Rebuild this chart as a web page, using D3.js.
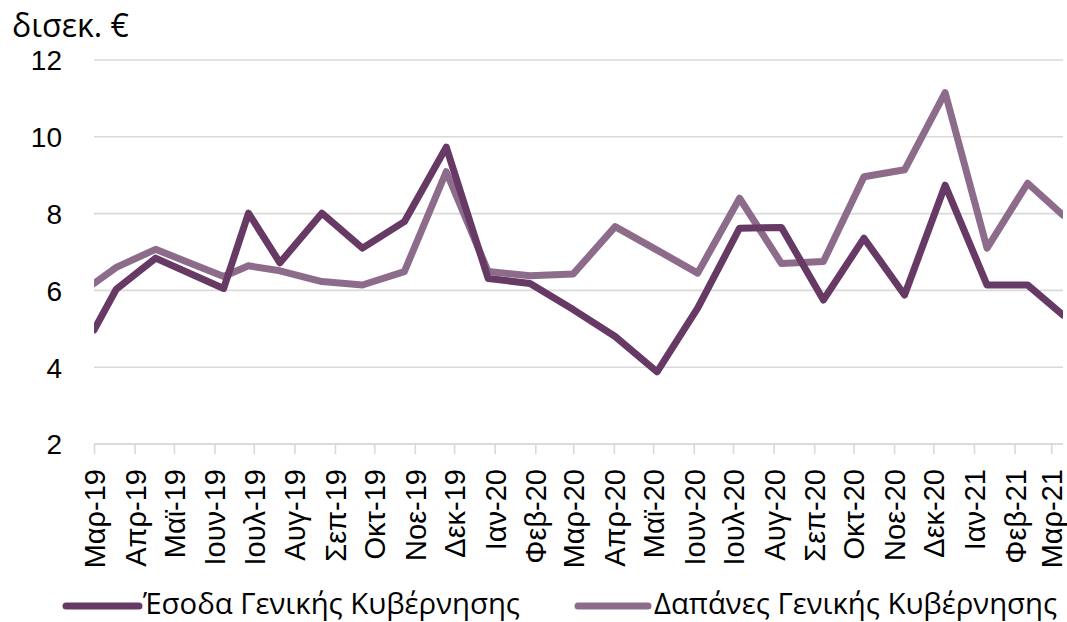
<!DOCTYPE html>
<html>
<head>
<meta charset="utf-8">
<script src="https://cdn.jsdelivr.net/npm/d3@7"></script>
<style>
  html, body { margin: 0; padding: 0; background: #fff; }
  svg { display: block; }
</style>
</head>
<body>
<svg id="chart" width="1067" height="622"></svg>
<script>
// Observation dates (irregular spacing) and the two series, in billion euro
const dates = [
  "2019-03-01", "2019-03-18", "2019-04-17", "2019-06-08", "2019-06-27",
  "2019-07-21", "2019-08-22", "2019-09-22", "2019-10-24", "2019-11-25",
  "2019-12-27", "2020-01-28", "2020-03-01", "2020-04-02", "2020-05-04",
  "2020-06-04", "2020-07-06", "2020-08-07", "2020-09-08", "2020-10-09",
  "2020-11-09", "2020-12-10", "2021-01-11", "2021-02-11", "2021-03-10"
];
const revenue = [
  4.97, 6.03, 6.84, 6.05, 8.01, 6.72, 8.01, 7.10, 7.79, 9.73,
  6.31, 6.18, 5.50, 4.80, 3.88, 5.54, 7.62, 7.64, 5.75, 7.36,
  5.88, 8.74, 6.14, 6.14, 5.36
];
const expenditure = [
  6.18, 6.60, 7.07, 6.36, 6.64, 6.51, 6.23, 6.14, 6.49, 9.09,
  6.49, 6.38, 6.43, 7.66, 7.05, 6.45, 8.40, 6.70, 6.75, 8.96,
  9.14, 11.15, 7.10, 8.79, 7.96
];
const seriesNames = ["Έσοδα Γενικής Κυβέρνησης", "Δαπάνες Γενικής Κυβέρνησης"];
const seriesColors = ["#673a65", "#8d6c8b"];
const monthLabels = ["Ιαν", "Φεβ", "Μαρ", "Απρ", "Μαϊ", "Ιουν", "Ιουλ", "Αυγ", "Σεπ", "Οκτ", "Νοε", "Δεκ"];
const yTicks = [2, 4, 6, 8, 10, 12];
const yUnit = "δισεκ. €";
const axisStart = "2019-03-01";
const axisEnd = "2021-03-10";

const parse = d3.timeParse("%Y-%m-%d");
const svg = d3.select("#chart");
const plot = { left: 94, right: 1063, top: 60, bottom: 444 };
const tickFont = "Liberation Sans, Arial, sans-serif";
const textFont = "Open Sans, sans-serif";

const x = d3.scaleTime()
  .domain([parse(axisStart), parse(axisEnd)])
  .range([plot.left, plot.right]);
const y = d3.scaleLinear().domain([2, 12]).range([plot.bottom, plot.top]);

const fmtTick = d => monthLabels[d.getMonth()] + "-" + d3.timeFormat("%y")(d);

// horizontal gridlines
svg.append("g")
  .selectAll("line")
  .data(yTicks)
  .join("line")
  .attr("x1", plot.left).attr("x2", plot.right)
  .attr("y1", d => y(d)).attr("y2", d => y(d))
  .attr("stroke", "#d9d9d9").attr("stroke-width", 1.6);

// y axis labels
const yAxis = svg.append("g")
  .attr("transform", `translate(${plot.left - 32},0)`)
  .call(d3.axisLeft(y).tickValues(yTicks).tickSize(0).tickPadding(0));
yAxis.select(".domain").remove();
yAxis.selectAll("text")
  .attr("font-family", tickFont)
  .attr("font-size", 28).attr("fill", "#000").attr("dy", "0.35em");

svg.append("text")
  .attr("x", 12).attr("y", 37)
  .attr("font-family", textFont)
  .attr("font-size", 32).attr("fill", "#000")
  .text(yUnit);

// x axis: monthly ticks
const monthTicks = d3.timeMonth.range(parse(axisStart), parse(axisEnd));
const xAxis = svg.append("g")
  .attr("transform", `translate(0,${plot.bottom})`)
  .call(d3.axisBottom(x).tickValues(monthTicks).tickSize(10).tickFormat(fmtTick));
xAxis.select(".domain")
  .attr("d", `M${plot.left},0H${plot.right}`)
  .attr("stroke", "#d9d9d9").attr("stroke-width", 1.6);
xAxis.selectAll(".tick line").attr("stroke", "#d9d9d9").attr("stroke-width", 1.6);
xAxis.selectAll(".tick text")
  .attr("font-family", tickFont)
  .attr("font-size", 29).attr("fill", "#000")
  .attr("text-anchor", "end")
  .attr("transform", "rotate(-90)")
  .attr("x", -25).attr("y", 0).attr("dy", "0.36em");

// lines
svg.append("clipPath").attr("id", "plotClip")
  .append("rect")
  .attr("x", plot.left).attr("y", 0)
  .attr("width", plot.right - plot.left).attr("height", 622);

const line = d3.line().x(d => x(d.date)).y(d => y(d.value));
const series = [revenue, expenditure].map(vals =>
  vals.map((v, i) => ({ date: parse(dates[i]), value: v })));

// draw expenditure first, revenue on top
[1, 0].forEach(i => {
  svg.append("path")
    .datum(series[i])
    .attr("clip-path", "url(#plotClip)")
    .attr("fill", "none")
    .attr("stroke", seriesColors[i])
    .attr("stroke-width", 7)
    .attr("stroke-linejoin", "round")
    .attr("stroke-linecap", "round")
    .attr("d", line);
});

// legend
const legendItems = [
  { x1: 66, x2: 139, tx: 143 },
  { x1: 578, x2: 648, tx: 654 }
];
const legend = svg.append("g");
legendItems.forEach((it, i) => {
  legend.append("line")
    .attr("x1", it.x1).attr("x2", it.x2)
    .attr("y1", 606).attr("y2", 606)
    .attr("stroke", seriesColors[i]).attr("stroke-width", 7)
    .attr("stroke-linecap", "round");
  legend.append("text")
    .attr("x", it.tx).attr("y", 614)
    .attr("font-family", textFont)
    .attr("font-size", 29.3).attr("fill", "#000")
    .text(seriesNames[i]);
});
</script>
</body>
</html>
